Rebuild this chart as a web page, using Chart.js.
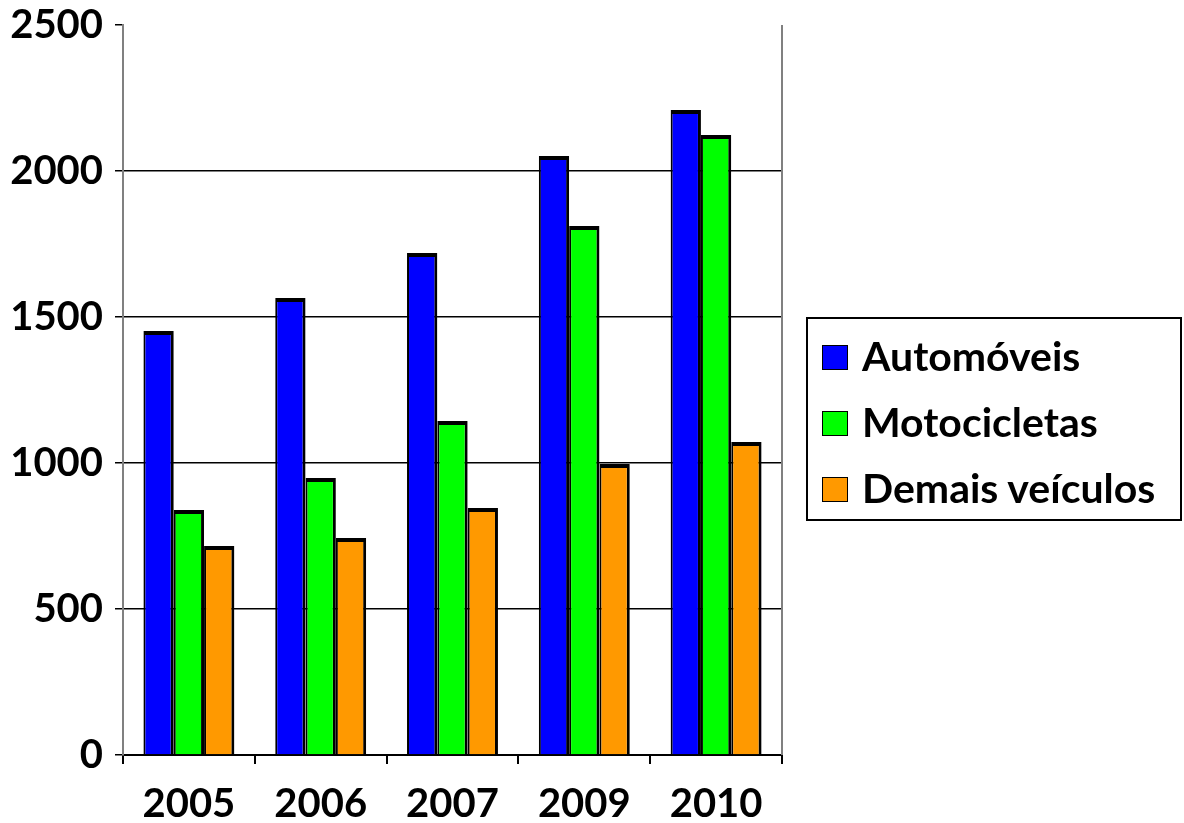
<!DOCTYPE html>
<html>
<head>
<meta charset="utf-8">
<script src="https://cdn.jsdelivr.net/npm/chart.js@4"></script>
<style>
  body { margin: 0; background: #fff; }
  #wrap { position: relative; width: 1184px; height: 823px; }
  #legend {
    position: absolute;
    left: 806px;
    top: 317px;
    width: 372px;
    height: 196px;
    border: 2px solid #000;
    padding-top: 4px;
    box-sizing: content-box;
    font-family: Lato, "Open Sans", sans-serif;
    font-weight: bold;
    font-size: 41px;
    color: #000;
  }
  .legend-item {
    display: flex;
    align-items: center;
    height: 66px;
    line-height: 66px;
    padding-left: 14px;
    white-space: nowrap;
  }
  .legend-box {
    width: 24px;
    height: 23px;
    border: 1.5px solid #000;
    margin-right: 14px;
    margin-top: 2px;
  }
</style>
</head>
<body>
<div id="wrap">
  <canvas id="barChart"></canvas>
  <div id="legend"></div>
</div>
<script>
const years = ["2005", "2006", "2007", "2009", "2010"];

const automoveis = [1452, 1565, 1719, 2051, 2209];
const motocicletas = [839, 949, 1144, 1812, 2123];
const demaisVeiculos = [716, 743, 846, 997, 1072];

const seriesNames = ["Automóveis", "Motocicletas", "Demais veículos"];
const seriesColors = ["#0000FF", "#00FF00", "#FF9900"];

const FONT = "Lato, 'Open Sans', sans-serif";

// gray line closing the plot on the right
const rightBorder = {
  id: "rightBorder",
  afterDraw(chart) {
    const ctx = chart.ctx;
    const area = chart.chartArea;
    ctx.save();
    ctx.strokeStyle = "#808080";
    ctx.lineWidth = 2;
    ctx.beginPath();
    ctx.moveTo(area.right, area.top);
    ctx.lineTo(area.right, area.bottom);
    ctx.stroke();
    ctx.restore();
  },
};

const barBorder = { top: 4, right: 3, bottom: 0, left: 2 };

const chart = new Chart(document.getElementById("barChart"), {
  type: "bar",
  data: {
    labels: years,
    datasets: [automoveis, motocicletas, demaisVeiculos].map((values, i) => ({
      label: seriesNames[i],
      data: values,
      backgroundColor: seriesColors[i],
      borderColor: "#000",
      borderWidth: barBorder,
    })),
  },
  options: {
    responsive: true,
    maintainAspectRatio: false,
    animation: false,
    layout: {
      padding: { top: 0, right: 402, left: 0, bottom: 0 },
    },
    datasets: {
      bar: {
        categoryPercentage: 0.69,
        barPercentage: 1,
      },
    },
    scales: {
      x: {
        afterFit(scale) {
          scale.height = 68;
        },
        grid: {
          offset: true,
          drawOnChartArea: false,
          tickLength: 9,
          tickColor: "#000",
          lineWidth: 2,
        },
        border: { color: "#000", width: 2 },
        ticks: {
          color: "#000",
          padding: 16,
          font: { family: FONT, size: 40, weight: "bold" },
        },
      },
      y: {
        min: 0,
        max: 2500,
        afterFit(scale) {
          scale.width = 123;
          scale.paddingTop = 25;
          scale.paddingBottom = 0;
        },
        ticks: {
          stepSize: 500,
          color: "#000",
          padding: 12,
          font: { family: FONT, size: 40, weight: "bold" },
          callback: (value) => String(value),
        },
        grid: {
          color: (c) => (c.tick && c.tick.value === 2500 ? "rgba(0,0,0,0)" : "#000"),
          tickColor: "#000",
          tickLength: 8,
          lineWidth: 1.5,
        },
        border: { color: "#808080", width: 2 },
      },
    },
    plugins: {
      legend: { display: false },
      tooltip: { enabled: false },
    },
  },
  plugins: [rightBorder],
});

const legendEl = document.getElementById("legend");
chart.data.datasets.forEach((ds) => {
  legendEl.innerHTML += `
    <div class="legend-item">
      <span class="legend-box" style="background:${ds.backgroundColor}"></span>
      <span>${ds.label}</span>
    </div>`;
});
</script>
</body>
</html>
